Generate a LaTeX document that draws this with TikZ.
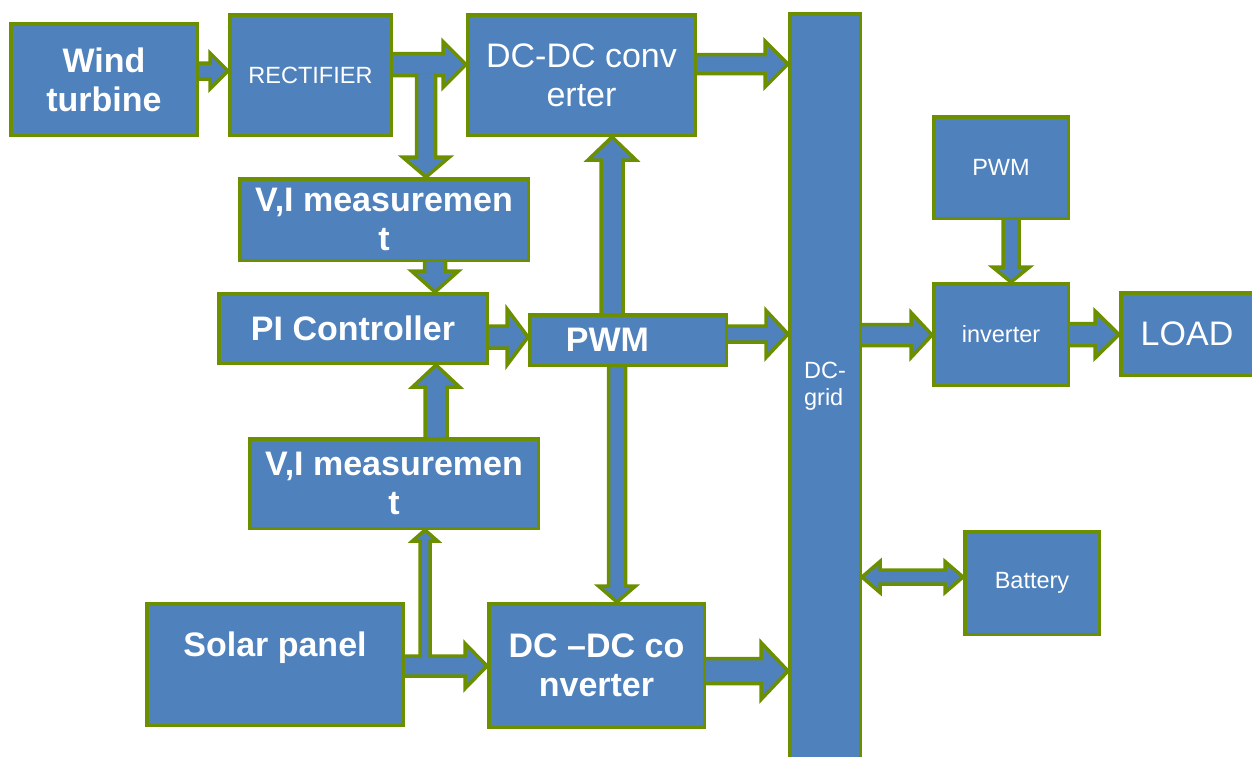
\documentclass[tikz,border=0pt]{standalone}
\usepackage{fontspec}
\setmainfont{Liberation Sans}
\usetikzlibrary{calc}
\pgfdeclarelayer{background}
\pgfsetlayers{background,main}
\definecolor{boxblue}{RGB}{79,129,189}
\definecolor{boxgreen}{RGB}{108,143,0}

% fat arrow: start, tip, shaft half width, head half width, head length (pt)
\newcommand{\blockarrow}[5]{%
  \coordinate (ba-s) at (#1);
  \coordinate (ba-e) at (#2);
  \coordinate (ba-n) at ($(ba-e)!#5pt!(ba-s)$);
  \filldraw[fatarrow] ($(ba-s)!#3pt!90:(ba-e)$) -- ($(ba-n)!#3pt!90:(ba-e)$)
    -- ($(ba-n)!#4pt!90:(ba-e)$) -- (ba-e) -- ($(ba-n)!#4pt!-90:(ba-e)$)
    -- ($(ba-n)!#3pt!-90:(ba-e)$) -- ($(ba-s)!#3pt!-90:(ba-e)$);
}
% fat arrow with a head at both ends
\newcommand{\dblblockarrow}[5]{%
  \coordinate (ba-s) at (#1);
  \coordinate (ba-e) at (#2);
  \coordinate (ba-n1) at ($(ba-s)!#5pt!(ba-e)$);
  \coordinate (ba-n2) at ($(ba-e)!#5pt!(ba-s)$);
  \filldraw[fatarrow] (ba-s) -- ($(ba-n1)!#4pt!90:(ba-e)$) -- ($(ba-n1)!#3pt!90:(ba-e)$)
    -- ($(ba-n2)!#3pt!90:(ba-e)$) -- ($(ba-n2)!#4pt!90:(ba-e)$) -- (ba-e)
    -- ($(ba-n2)!#4pt!-90:(ba-e)$) -- ($(ba-n2)!#3pt!-90:(ba-e)$)
    -- ($(ba-n1)!#3pt!-90:(ba-e)$) -- ($(ba-n1)!#4pt!-90:(ba-e)$) -- cycle;
}

\begin{document}
\begin{tikzpicture}[
    x=1pt, y=-1pt,
    block/.style={rectangle, draw=boxgreen, fill=boxblue, line width=3.5pt,
        text=white, align=center, inner sep=0pt},
    bigtext/.style={font=\fontsize{34}{39}\selectfont\bfseries},
    smalltext/.style={font=\fontsize{23.5}{27}\selectfont},
    fatarrow/.style={fill=boxblue, draw=boxgreen, line width=3.5pt, line join=miter}
]
    \useasboundingbox (0,0) rectangle (1252,756);

    \node[block, bigtext, minimum width=186.5pt, minimum height=111.5pt] (wind) at (104,79.5) {Wind\\turbine};
    \node[block, smalltext, minimum width=161.5pt, minimum height=120.5pt] (rect) at (310.5,75) {RECTIFIER};
    \node[block, bigtext, font=\fontsize{34}{39}\selectfont, minimum width=227.5pt, minimum height=120.5pt] (dcdcw) at (581.5,75) {DC-DC conv\\erter};
    \node[block, bigtext, minimum width=288.5pt, minimum height=81.5pt] (measw) at (384,219.5) {V,I measuremen\\t};
    \node[block, bigtext, minimum width=268.5pt, minimum height=69.5pt] (pi) at (353,328.5) {PI Controller};
    \node[block, bigtext, minimum width=196.5pt, minimum height=50.5pt] (pwm) at (628,340) {\hspace*{-41pt}PWM};
    \node[block, bigtext, minimum width=288.5pt, minimum height=89.5pt] (meass) at (394,483.5) {V,I measuremen\\t};
    \node[block, bigtext, minimum width=256.5pt, minimum height=121.5pt] (solar) at (275,664.5) {Solar panel\\[2pt]};
    \node[block, bigtext, minimum width=215.5pt, minimum height=123.5pt] (dcdcs) at (596.5,665.5) {DC --DC co\\nverter};
    \node[block, smalltext, align=left, minimum width=70.5pt, minimum height=744.5pt] (grid) at (825,386) {DC-\\grid};
    \node[block, smalltext, minimum width=134.5pt, minimum height=101.5pt] (pwminv) at (1001,167.5) {PWM};
    \node[block, smalltext, minimum width=134.5pt, minimum height=101.5pt] (inv) at (1001,334.5) {inverter};
    \node[block, bigtext, font=\fontsize{34}{39}\selectfont, minimum width=132.5pt, minimum height=82.5pt] (load) at (1187,334) {LOAD};
    \node[block, smalltext, minimum width=134.5pt, minimum height=102.5pt] (batt) at (1032,583) {Battery};

    \begin{pgfonlayer}{background}
    % wind path
    \blockarrow{wind.east |- 0,71}{rect.west |- 0,71}{8}{18}{18}
    \blockarrow{rect.east |- 0,64.5}{dcdcw.west |- 0,64.5}{11}{23}{23}
    \blockarrow{426,73.5}{measw.north -| 426,0}{9.5}{23.5}{20}
    \blockarrow{measw.south -| 435,0}{pi.north -| 435,0}{10.5}{23.5}{21}
    % control
    \blockarrow{pi.east |- 0,337}{pwm.west |- 0,337}{11}{28}{21}
    \blockarrow{pwm.north -| 612,0}{dcdcw.south -| 612,0}{11}{24}{23}
    \blockarrow{pwm.south -| 617,0}{dcdcs.north -| 617,0}{8.5}{18.5}{16}
    \blockarrow{meass.north -| 436,0}{pi.south -| 436,0}{11}{23.5}{22}
    % solar path
    \blockarrow{solar.east |- 0,666}{dcdcs.west |- 0,666}{10}{22.5}{22}
    \blockarrow{425,658}{meass.south -| 425,0}{5}{12.5}{11}
    % into the grid
    \blockarrow{dcdcw.east |- 0,64}{grid.west |- 0,64}{9.5}{23}{23}
    \blockarrow{pwm.east |- 0,334}{grid.west |- 0,334}{8}{23.5}{22}
    \blockarrow{dcdcs.east |- 0,671}{grid.west |- 0,671}{12.5}{28.5}{27}
    % load side
    \blockarrow{grid.east |- 0,335}{inv.west |- 0,335}{10.5}{22.5}{21}
    \blockarrow{inv.east |- 0,334.5}{load.west |- 0,334.5}{11}{23.5}{24}
    \blockarrow{pwminv.south -| 1011,0}{inv.north -| 1011,0}{8}{18.5}{15}
    \dblblockarrow{grid.east |- 0,577}{batt.west |- 0,577}{7}{15.5}{18}
    \end{pgfonlayer}
\end{tikzpicture}
\end{document}
